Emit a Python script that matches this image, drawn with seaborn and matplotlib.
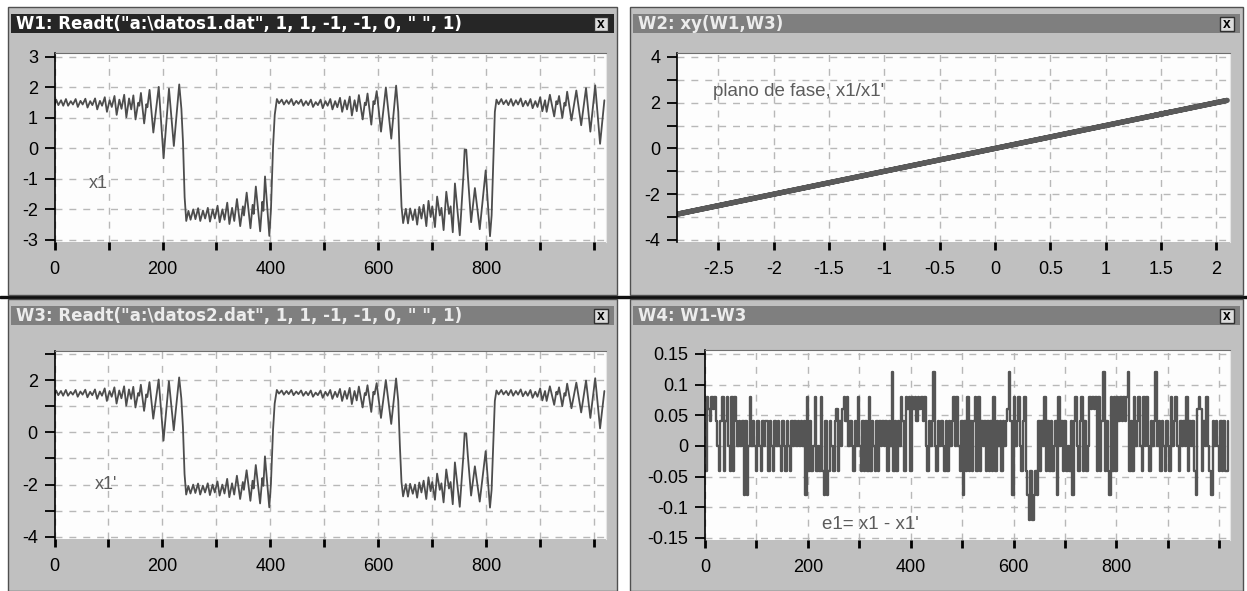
import numpy as np
import pandas as pd
import seaborn as sns
import matplotlib.pyplot as plt
from matplotlib.patches import Rectangle

# x1 (W1), turning points of the trace: (sample, value)
x1_seg1 = [(0, 1.42), (3, 1.60), (7, 1.42), (12, 1.58), (16, 1.40), (21, 1.62), (25, 1.40), (30, 1.55),
           (34, 1.44), (39, 1.62), (43, 1.36), (48, 1.56), (52, 1.44), (57, 1.63), (61, 1.34), (66, 1.55),
           (70, 1.42), (75, 1.64), (79, 1.28), (84, 1.56), (88, 1.40), (93, 1.68), (97, 1.20), (102, 1.58),
           (106, 1.36), (111, 1.72), (115, 1.10), (120, 1.60), (124, 1.30), (129, 1.76), (133, 1.02),
           (138, 1.64), (142, 1.28), (146, 1.74), (150, 0.95), (155, 1.50), (157, 1.40), (160, 1.82),
           (166, 0.82), (170, 1.45), (172, 1.35), (176, 1.92), (183, 0.52), (193, 2.02), (202, -0.32),
           (212, 1.96), (221, 0.08), (231, 2.10), (235, 1.30), (238, 0.20), (241, -1.60), (244, -2.38)]
x1_seg2 = [(248, -2.05), (252, -2.34), (257, -2.00), (261, -2.32), (266, -1.96), (270, -2.38), (275, -2.04),
           (279, -2.30), (284, -1.95), (288, -2.40), (293, -2.00), (297, -2.30), (302, -1.88), (306, -2.42),
           (311, -2.00), (315, -2.34), (320, -1.78), (324, -2.48), (329, -1.95), (333, -2.38), (338, -1.66),
           (344, -2.55), (349, -1.90), (351, -2.20), (356, -1.45), (363, -2.62), (367, -1.85), (369, -2.15),
           (373, -1.25), (381, -2.72), (385, -1.75), (387, -2.05), (390, -0.92), (398, -2.87), (401, -2.00),
           (403, -0.90), (405, 0.10), (408, 1.10), (412, 1.62)]
x1_seg3 = [(416, 1.48), (421, 1.60), (425, 1.44), (430, 1.58), (434, 1.46), (439, 1.62), (443, 1.42),
           (448, 1.56), (452, 1.46), (457, 1.60), (461, 1.40), (466, 1.55), (470, 1.42), (475, 1.60),
           (479, 1.36), (484, 1.52), (488, 1.42), (493, 1.60), (497, 1.32), (502, 1.55), (506, 1.40),
           (511, 1.62), (515, 1.28), (520, 1.55), (524, 1.35), (529, 1.66), (533, 1.20), (538, 1.58),
           (542, 1.28), (547, 1.70), (551, 1.08), (556, 1.58), (560, 1.22), (564, 1.75), (571, 0.95),
           (575, 1.50), (577, 1.42), (580, 1.80), (587, 0.78), (591, 1.55), (593, 1.45), (597, 1.88),
           (605, 0.55), (614, 2.00), (624, 0.32), (633, 2.06), (637, 1.20), (640, -0.50), (643, -1.90),
           (646, -2.45)]
x1_seg4 = [(651, -1.98), (655, -2.46), (659, -1.97), (664, -2.35), (668, -2.00), (672, -2.50), (676, -1.92),
           (680, -2.30), (684, -1.85), (689, -2.55), (693, -1.72), (697, -2.25), (700, -1.90), (705, -2.58),
           (709, -1.58), (714, -2.20), (717, -1.95), (721, -2.68), (726, -1.42), (731, -2.15), (734, -1.90),
           (738, -2.75), (742, -1.15), (751, -2.85), (758, -0.80), (760, -0.04), (763, -0.04), (766, -0.90),
           (772, -2.42), (779, -1.30), (788, -2.65), (799, -0.72), (807, -2.88), (810, -2.20), (813, -0.50),
           (816, 1.20), (819, 1.60)]
x1_seg5 = [(823, 1.45), (828, 1.62), (832, 1.45), (837, 1.58), (841, 1.42), (846, 1.62), (850, 1.40),
           (855, 1.58), (859, 1.44), (864, 1.64), (868, 1.38), (873, 1.56), (877, 1.40), (882, 1.62),
           (886, 1.32), (891, 1.55), (895, 1.36), (900, 1.68), (904, 1.22), (909, 1.58), (912, 1.20),
           (918, 1.76), (926, 1.05), (930, 1.55), (932, 1.45), (935, 1.72), (941, 1.00), (945, 1.50),
           (947, 1.40), (950, 1.86), (958, 0.92), (967, 1.90), (976, 0.76), (985, 1.98), (993, 0.55),
           (1002, 2.07), (1011, 0.15), (1019, 1.58)]

# e1 = x1 - x1' (W4), one level code every 3 samples
e1_step = 3
e1_codes = ("a86486840a48a480a8a8" "40404c4c08040a40a404" "4a40a4040a40a40a4040"
            "40404c8a4a08a0a8ac4c" "a40a46a406848040a408" "0a4a4a8a40a4a40404a4"
            "0Aa4a4084a868a868486" "8480a404A0a4040a4a40" "48080a4c4a8a4a48a8a4"
            "04a4a4a8a404a4046A4c" "80480a48aceaecac4a40" "8a4a4a04c804a4a0a4c4"
            "80a48a4a086868a8a4Aa" "4ac8a8a8484848Aa4a80" "480a8080a404A04a40a4"
            "0a80480a40408a404ac6" "86a4080ac4040a4a4aa4")
e1_levels = {'A': 0.12, '8': 0.08, '6': 0.06, '4': 0.04, '0': 0.0,
             'a': -0.04, 'b': -0.06, 'c': -0.08, 'e': -0.12}

titles = ['W1: Readt("a:\\datos1.dat", 1, 1, -1, -1, 0, " ", 1)', 'W2: xy(W1,W3)',
          'W3: Readt("a:\\datos2.dat", 1, 1, -1, -1, 0, " ", 1)', 'W4: W1-W3']

w1 = pd.DataFrame(x1_seg1 + x1_seg2 + x1_seg3 + x1_seg4 + x1_seg5, columns=['n', 'x1'])
# x1' read from datos2.dat follows x1 at this scale
w3 = w1.rename(columns={'x1': 'x1p'})
w4 = pd.DataFrame({'n': np.arange(len(e1_codes)) * e1_step,
                   'e1': [e1_levels[c] for c in e1_codes]})

sns.set_style('white')
plt.rcParams['font.family'] = ['Liberation Sans', 'DejaVu Sans']
plt.rcParams['axes.unicode_minus'] = False

W, H = 1247, 591
fig = plt.figure(figsize=(W / 100, H / 100), dpi=100, facecolor='white')

# window frames drawn in pixel coordinates
bg = fig.add_axes([0, 0, 1, 1])
bg.set_xlim(0, W)
bg.set_ylim(H, 0)
bg.axis('off')
bg.add_patch(Rectangle((0, 295.5), W, 2.5, color='#101010'))
panels = [(8, 7, 617, 295), (630, 7, 1243, 295), (8, 299, 617, 591), (630, 299, 1243, 591)]
bars = ['#262626', '#7f7f7f', '#7f7f7f', '#7f7f7f']
bar_txt = ['white', '#ececec', '#ececec', '#ececec']
for (l, t, r, b), title, bc, tc in zip(panels, titles, bars, bar_txt):
    bg.add_patch(Rectangle((l, t), r - l, b - t, facecolor='#c0c0c0', edgecolor='#505050', lw=1))
    bg.add_patch(Rectangle((l + 3, t + 7), r - l - 6, 19, facecolor=bc, edgecolor='none'))
    bg.text(l + 8, t + 17, title, color=tc, fontsize=12, fontweight='bold', va='center', ha='left',
            family='DejaVu Sans')
    bg.add_patch(Rectangle((r - 23, t + 10), 14, 14, facecolor='#dcdcdc', edgecolor='#303030', lw=1))
    bg.text(r - 16, t + 16.5, 'x', color='black', fontsize=10, fontweight='bold', va='center', ha='center')


def px_axes(l, t, r, b):
    return fig.add_axes([l / W, 1 - b / H, (r - l) / W, (b - t) / H])


def style(ax):
    ax.set_facecolor('#fdfdfd')
    ax.grid(True, color='#b8b8b8', linestyle=(0, (5, 5)), linewidth=1)
    ax.set_axisbelow(True)
    ax.spines['left'].set_color('black')
    ax.spines['left'].set_linewidth(1.2)
    ax.spines['bottom'].set_visible(False)
    ax.spines['top'].set_color('#6e6e6e')
    ax.spines['right'].set_color('#e6e6e6')
    ax.tick_params(axis='y', direction='out', length=7, width=1.3, pad=5, labelsize=13,
                   left=True, colors='black')
    ax.tick_params(axis='x', direction='out', length=6, width=2, pad=8, labelsize=13,
                   bottom=True, colors='black')
    ax.set_xlabel('')
    ax.set_ylabel('')


line_col = '#4d4d4d'
txt_col = '#5c5c5c'
n_ticks = list(range(0, 1001, 100))
n_labels = [str(t) if t % 200 == 0 and t < 1000 else '' for t in n_ticks]

# W1
ax1 = px_axes(54.6, 53, 606, 242)
sns.lineplot(data=w1, x='n', y='x1', ax=ax1, color=line_col, linewidth=1.3, estimator=None, sort=False)
ax1.set_xlim(0, 1022)
ax1.set_ylim(-3.07, 3.13)
ax1.set_xticks(n_ticks, n_labels)
ax1.set_yticks(range(-3, 4), [str(v) for v in range(-3, 4)])
ax1.text(64, -1.15, 'x1', color=txt_col, fontsize=13, va='center')
style(ax1)

# W2
ax2 = px_axes(677, 53, 1230, 242)
sns.lineplot(x=w1['x1'], y=w3['x1p'], ax=ax2, color='#5a5a5a', linewidth=3.8, estimator=None, sort=False)
ax2.set_xlim(-2.875, 2.125)
ax2.set_ylim(-4.09, 4.17)
xt2 = [-2.5, -2, -1.5, -1, -0.5, 0, 0.5, 1, 1.5, 2]
ax2.set_xticks(xt2, ['%g' % v for v in xt2])
ax2.set_yticks(range(-4, 5), [str(v) if v % 2 == 0 else '' for v in range(-4, 5)])
ax2.text(-2.55, 2.47, "plano de fase, x1/x1'", color=txt_col, fontsize=13.5, va='center')
style(ax2)

# W3
ax3 = px_axes(54.5, 351, 606, 539)
sns.lineplot(data=w3, x='n', y='x1p', ax=ax3, color=line_col, linewidth=1.3, estimator=None, sort=False)
ax3.set_xlim(0, 1022)
ax3.set_ylim(-4.08, 3.11)
ax3.set_xticks(n_ticks, n_labels)
ax3.set_yticks(range(-4, 4), [str(v) if v % 2 == 0 else '' for v in range(-4, 4)])
ax3.text(75, -2.0, "x1'", color=txt_col, fontsize=13, va='center')
style(ax3)

# W4
ax4 = px_axes(705, 350, 1230, 540)
sns.lineplot(data=w4, x='n', y='e1', ax=ax4, color='#555555', linewidth=1.7, estimator=None,
             sort=False, drawstyle='steps-post')
ax4.set_xlim(0, 1021)
ax4.set_ylim(-0.1533, 0.1565)
ax4.set_xticks(n_ticks, n_labels)
yt4 = [-0.15, -0.1, -0.05, 0, 0.05, 0.1, 0.15]
ax4.set_yticks(yt4, ['%g' % v for v in yt4])
ax4.text(228, -0.1275, "e1= x1 - x1'", color=txt_col, fontsize=13.5, va='center')
style(ax4)

fig.savefig('out.png', dpi=100)
